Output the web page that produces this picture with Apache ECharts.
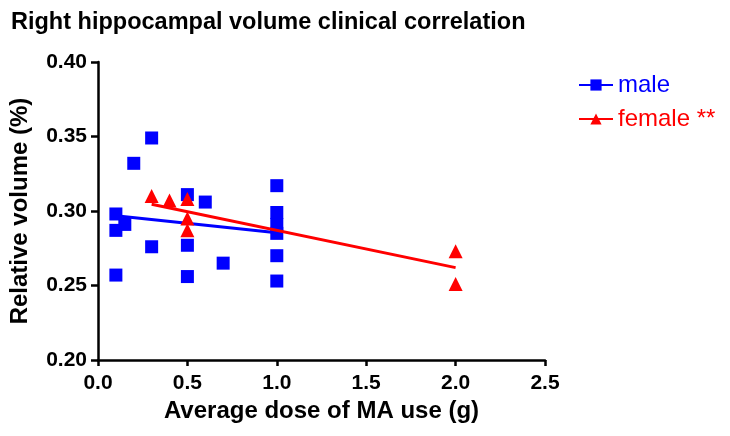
<!DOCTYPE html>
<html><head><meta charset="utf-8">
<script src="https://cdn.jsdelivr.net/npm/echarts@6/dist/echarts.min.js"></script>
<style>html,body{margin:0;padding:0;background:#fff}#c{width:730px;height:436px}</style>
</head><body><div id="c"></div>
<script>
const title = 'Right hippocampal volume clinical correlation';
const xName = 'Average dose of MA use (g)';
const yName = 'Relative volume (%)';
const maleX = [0.1, 0.1, 0.15, 0.1, 0.2, 0.3, 0.3, 0.5, 0.5, 0.5, 0.6, 0.7, 1.0, 1.0, 1.0, 1.0, 1.0, 1.0];
const maleY = [0.298, 0.287, 0.291, 0.257, 0.332, 0.349, 0.276, 0.311, 0.277, 0.256, 0.306, 0.265, 0.317, 0.299, 0.291, 0.285, 0.270, 0.253];
const femaleX = [0.3, 0.4, 0.5, 0.5, 0.5, 2.0, 2.0];
const femaleY = [0.310, 0.307, 0.308, 0.295, 0.287, 0.273, 0.251];
const maleFitX = [0.1, 1.0];
const maleFitY = [0.2968, 0.2854];
const femaleFitX = [0.3, 2.0];
const femaleFitY = [0.3045, 0.2620];
const xTicks = [0, 0.5, 1.0, 1.5, 2.0, 2.5];
const yTicks = [0.20, 0.25, 0.30, 0.35, 0.40];

const zip = (a, b) => a.map((v, i) => [v, b[i]]);
const font = 'Liberation Sans, Arial, sans-serif';
const chart = echarts.init(document.getElementById('c'), null, {renderer: 'canvas'});
chart.setOption({
  animation: false,
  title: {text: title, left: 6, top: 6, textStyle: {fontFamily: font, fontWeight: 'bold', fontSize: 23.5, color: '#000'}},
  legend: {
    orient: 'vertical', left: 573, top: 68, itemGap: 10, itemWidth: 34, itemHeight: 14,
    textStyle: {fontFamily: font, fontSize: 24},
    data: [{name: 'male', textStyle: {color: '#0000ff'}}, {name: 'female **', textStyle: {color: '#ff0000'}}]
  },
  grid: {left: 95, right: 185, top: 62, bottom: 76},
  xAxis: {
    type: 'value', min: xTicks[0], max: xTicks[xTicks.length - 1], interval: 0.5,
    name: xName, nameLocation: 'middle', nameGap: 34,
    nameTextStyle: {fontFamily: font, fontWeight: 'bold', fontSize: 24, color: '#000'},
    axisLine: {lineStyle: {color: '#000', width: 2.5}},
    axisTick: {show: true, length: 6, lineStyle: {color: '#000', width: 2.5}},
    axisLabel: {fontFamily: font, fontWeight: 'bold', fontSize: 21, color: '#000', margin: 13, formatter: v => v.toFixed(1)},
    splitLine: {show: false}
  },
  yAxis: {
    type: 'value', min: yTicks[0], max: yTicks[yTicks.length - 1], interval: 0.05,
    name: yName, nameLocation: 'middle', nameGap: 66, nameRotate: 90,
    nameTextStyle: {fontFamily: font, fontWeight: 'bold', fontSize: 24, color: '#000'},
    axisLine: {show: true, lineStyle: {color: '#000', width: 2.5}},
    axisTick: {show: true, length: 7, lineStyle: {color: '#000', width: 2.5}},
    axisLabel: {fontFamily: font, fontWeight: 'bold', fontSize: 21, color: '#000', margin: 11, formatter: v => v.toFixed(2)},
    splitLine: {show: false}
  },
  series: [
    {name: 'male', type: 'line', data: zip(maleFitX, maleFitY), symbol: 'rect', symbolSize: 13, showSymbol: false,
     lineStyle: {color: '#0000ff', width: 3}, itemStyle: {color: '#0000ff'}, z: 3},
    {name: 'female **', type: 'line', data: zip(femaleFitX, femaleFitY), symbol: 'triangle', symbolSize: 14, showSymbol: false,
     lineStyle: {color: '#ff0000', width: 3}, itemStyle: {color: '#ff0000'}, z: 4},
    {name: 'male', type: 'scatter', data: zip(maleX, maleY), symbol: 'rect', symbolSize: 13,
     itemStyle: {color: '#0000ff', opacity: 1}, z: 2},
    {name: 'female **', type: 'scatter', data: zip(femaleX, femaleY), symbol: 'triangle', symbolSize: 14,
     itemStyle: {color: '#ff0000', opacity: 1}, z: 5}
  ]
});
</script></body></html>
